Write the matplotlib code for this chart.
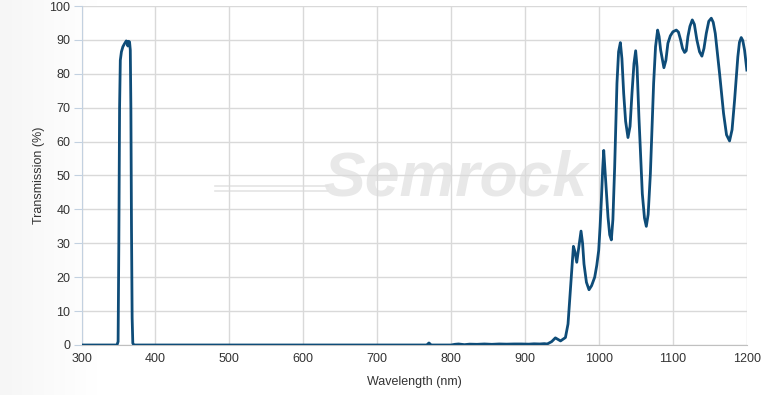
import matplotlib
matplotlib.use("Agg")
import matplotlib.pyplot as plt
import numpy as np

wavelength = [300, 348, 349.5, 350.5, 351.5, 352.5, 354, 356, 358, 360.5, 361.8, 362.7, 363.8, 365, 366, 366.8, 367.6, 368.5, 369.4, 371,
              760, 767, 770, 773, 778, 800, 805, 810, 818, 825, 835, 845, 855, 865, 875, 885, 895, 905, 912, 920, 926, 930,
              936, 941, 948, 954.6, 958.1, 961.8, 965.4, 967.5, 969.9, 972.5, 975.7, 977.8, 979.7, 983, 986.5, 990, 994.2, 997, 999.6, 1001.5, 1003.2, 1005, 1006.4, 1008, 1010, 1012.2, 1014.5, 1016.7, 1018.8, 1021.2, 1024.3, 1026.5, 1028.9, 1031, 1033.4, 1036, 1039.2, 1042, 1044.6, 1047.3, 1049.6, 1051.5, 1054, 1058.6, 1061.5, 1064, 1066.5, 1069.5, 1073.9, 1076.5, 1079.3, 1081.3, 1083.4, 1087.8, 1090.5, 1093.2, 1096.5, 1100, 1104.6, 1107.5, 1110.4, 1113, 1115.8, 1118, 1120.3, 1123, 1126.2, 1129, 1132.4, 1136, 1139.2, 1142, 1145.1, 1148.5, 1151.9, 1154.5, 1157.3, 1163.1, 1168.5, 1172.5, 1176.6, 1180, 1183.4, 1187.8, 1190, 1192.4, 1194.5, 1196.9, 1200]
transmission = [0, 0, 1, 30, 70, 84, 86.5, 88, 88.8, 89.7, 89.4, 88.2, 89.6, 89.4, 87, 70, 35, 8, 0.5, 0,
                0, 0, 0.6, 0, 0, 0, 0.2, 0.3, 0.1, 0.25, 0.2, 0.3, 0.2, 0.3, 0.25, 0.3, 0.3, 0.25, 0.35, 0.3, 0.4, 0.3,
                1.0, 2.1, 1.2, 2.2, 6.2, 18, 29.1, 27.5, 24.4, 28.5, 33.6, 30, 23.9, 18.5, 16.3, 17.5, 20, 23.5, 27.9, 35, 42.7, 52, 57.4, 52, 45, 37.7, 32.5, 31, 37, 52.5, 77.2, 86.5, 89.2, 84.5, 74.2, 66, 61.2, 64.5, 74.2, 83, 86.8, 82, 67.3, 44.6, 37.5, 35, 38.5, 50.5, 77.2, 88, 92.9, 91, 87, 81.8, 84, 89, 91.2, 92.4, 92.9, 92.3, 90, 87.5, 86.3, 86.8, 91, 94, 95.9, 94.6, 90, 86.5, 85.2, 87.5, 91.9, 95.5, 96.4, 95.2, 91.9, 80.1, 68.3, 62, 60.2, 63.5, 72.2, 85, 89.3, 90.7, 89.8, 87, 81.1]

x_ticks = [300, 400, 500, 600, 700, 800, 900, 1000, 1100, 1200]
y_ticks = [0, 10, 20, 30, 40, 50, 60, 70, 80, 90, 100]

plt.rcParams['font.family'] = ['Liberation Sans', 'DejaVu Sans']

fig = plt.figure(figsize=(7.66, 3.95), dpi=100)
fig.patch.set_facecolor('white')

# subtle gradient on the far left of the figure
bg = fig.add_axes([0, 0, 1, 1], zorder=-10)
grad = np.linspace(0, 1, 256)
bgcol = np.ones((1, 256, 3))
shade = 0.965 + 0.035 * np.clip(grad * 8, 0, 1)
bgcol[0, :, 0] = shade
bgcol[0, :, 1] = shade
bgcol[0, :, 2] = shade
bg.imshow(bgcol, aspect='auto', extent=[0, 1, 0, 1])
bg.axis('off')

ax = fig.add_axes([0.1064, 0.1266, 0.975 - 0.1064, 0.9848 - 0.1266])
ax.set_facecolor('white')
ax.set_xlim(300, 1200)
ax.set_ylim(0, 100)
ax.set_xticks(x_ticks)
ax.set_yticks(y_ticks)
ax.grid(True, color='#d9d9d9', linewidth=1)
ax.set_axisbelow(True)

for side in ['top', 'right']:
    ax.spines[side].set_visible(False)
ax.spines['left'].set_color('#c3d1e0')
ax.spines['bottom'].set_color('#c0c0c0')
ax.tick_params(axis='y', length=6, color='#c3d1e0', labelsize=9, labelcolor='#333333', pad=2)
ax.tick_params(axis='x', length=0, labelsize=9, labelcolor='#333333', pad=6)

# watermark
ax.text(0.562, 0.49, 'Semrock', transform=ax.transAxes, fontsize=45, fontweight='bold',
        fontstyle='italic', color='#e8e8e8', ha='center', va='center', zorder=0.5,
        family=['Liberation Sans'])
ax.plot([0.2, 0.37], [0.455, 0.455], transform=ax.transAxes, color='#e4e4e4', lw=1.2, zorder=0.5)
ax.plot([0.2, 0.37], [0.47, 0.47], transform=ax.transAxes, color='#e4e4e4', lw=1.2, zorder=0.5)

ax.plot(wavelength, transmission, color='#0e4c78', linewidth=2.0, zorder=3, solid_joinstyle='round')

ax.set_xlabel('Wavelength (nm)', fontsize=9, color='#333333', labelpad=8)
ax.set_ylabel('Transmission (%)', fontsize=9, color='#333333', labelpad=3)

fig.savefig('out.png', dpi=100)
